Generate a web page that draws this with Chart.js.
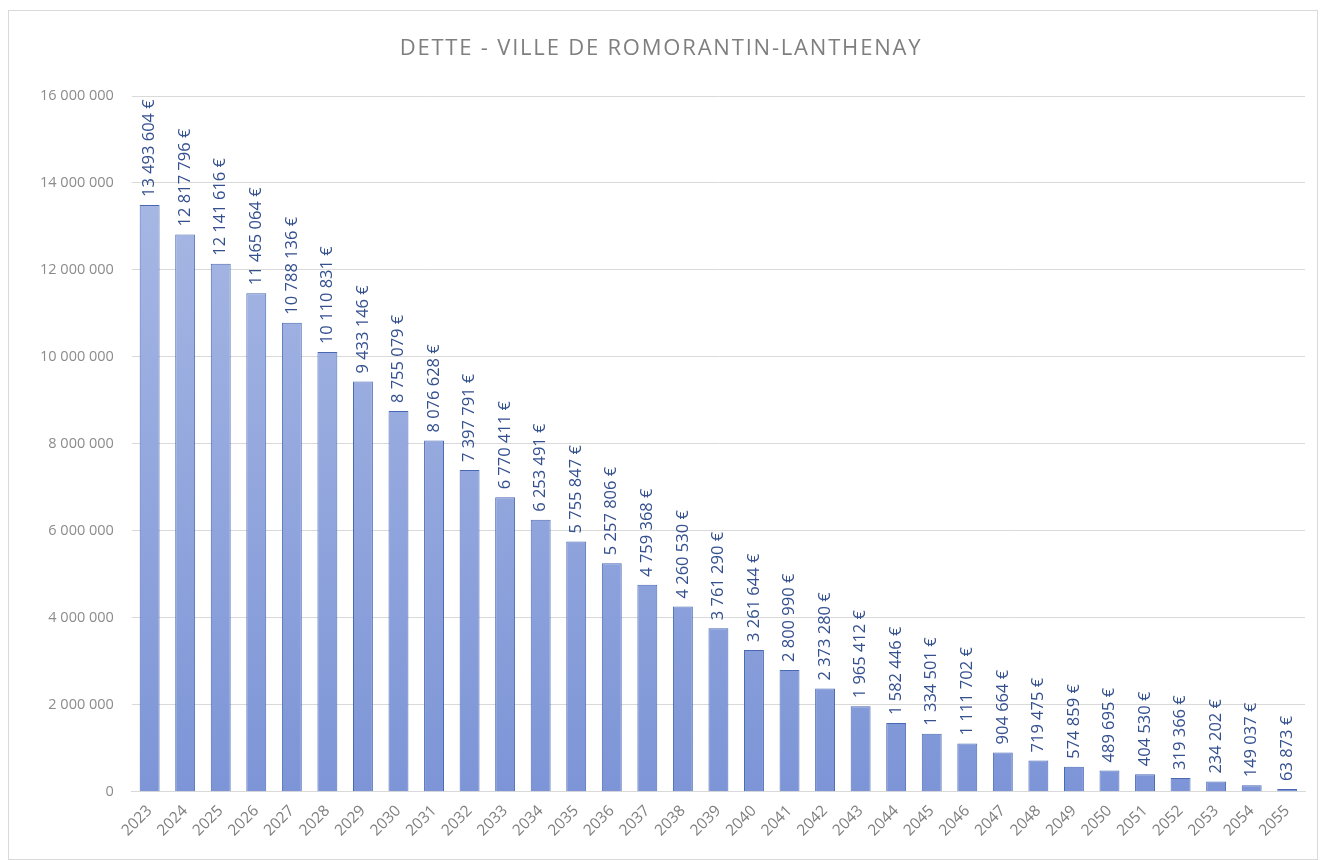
<!DOCTYPE html>
<html>
<head>
<meta charset="utf-8">
<script src="https://cdn.jsdelivr.net/npm/chart.js@4/dist/chart.umd.min.js"></script>
<style>
    html, body { margin: 0; padding: 0; background: #fff; }
    #frame {
        position: absolute; left: 8px; top: 10px; width: 1310px; height: 850px;
        border: 1px solid #d9d9d9; box-sizing: border-box;
    }
    #wrap { position: absolute; left: 0; top: 0; width: 1320px; height: 860px; }
</style>
</head>
<body>
<div id="frame"></div>
<div id="wrap"><canvas id="detteChart"></canvas></div>
<script>
// Dette restante par année
const years = ['2023','2024','2025','2026','2027','2028','2029','2030','2031','2032','2033',
    '2034','2035','2036','2037','2038','2039','2040','2041','2042','2043','2044',
    '2045','2046','2047','2048','2049','2050','2051','2052','2053','2054','2055'];
const dette = [13493604, 12817796, 12141616, 11465064, 10788136, 10110831, 9433146, 8755079,
    8076628, 7397791, 6770411, 6253491, 5755847, 5257806, 4759368, 4260530, 3761290,
    3261644, 2800990, 2373280, 1965412, 1582446, 1334501, 1111702, 904664, 719475,
    574859, 489695, 404530, 319366, 234202, 149037, 63873];
const yTicks = [0, 2000000, 4000000, 6000000, 8000000, 10000000, 12000000, 14000000, 16000000];
const titre = 'DETTE - VILLE DE ROMORANTIN-LANTHENAY';

const FONT = '"Open Sans", "Liberation Sans", sans-serif';

function formatNombre(v) {
    return String(v).replace(/\B(?=(\d{3})+(?!\d))/g, ' ');
}

// Titre dessiné à la main (espacement des lettres façon Excel)
const titrePlugin = {
    id: 'titrePlugin',
    afterDraw(chart) {
        const ctx = chart.ctx;
        ctx.save();
        ctx.fillStyle = '#7f7f7f';
        ctx.font = '22px ' + FONT;
        ctx.letterSpacing = '1.8px';
        ctx.textAlign = 'center';
        ctx.textBaseline = 'middle';
        ctx.fillText(titre, 661, 49);
        ctx.restore();
    }
};

// Étiquettes de valeurs verticales au-dessus des barres
const valueLabels = {
    id: 'valueLabels',
    afterDatasetsDraw(chart) {
        const ctx = chart.ctx;
        const meta = chart.getDatasetMeta(0);
        ctx.save();
        ctx.fillStyle = '#34508f';
        ctx.font = '16.5px ' + FONT;
        ctx.textAlign = 'left';
        ctx.textBaseline = 'middle';
        meta.data.forEach((bar, i) => {
            ctx.save();
            ctx.translate(bar.x, bar.y - 8);
            ctx.rotate(-Math.PI / 2);
            ctx.fillText(formatNombre(dette[i]) + ' €', 0, 0);
            ctx.restore();
        });
        ctx.restore();
    }
};

const ctx = document.getElementById('detteChart').getContext('2d');
new Chart(ctx, {
    type: 'bar',
    data: {
        labels: years,
        datasets: [{
            label: 'Dette',
            data: dette,
            backgroundColor: (c) => {
                const area = c.chart.chartArea;
                if (!area) return '#8fa6dc';
                const g = c.chart.ctx.createLinearGradient(0, area.top, 0, area.bottom);
                g.addColorStop(0, '#aebde6');
                g.addColorStop(1, '#7d95d7');
                return g;
            },
            borderColor: '#4868b4',
            borderWidth: 1,
            barPercentage: 0.56,
            categoryPercentage: 1
        }]
    },
    options: {
        responsive: true,
        maintainAspectRatio: false,
        animation: false,
        layout: { padding: { left: 22, right: 15, top: 96, bottom: 18 } },
        plugins: {
            legend: { display: false },
            tooltip: { enabled: false },
            title: { display: false }
        },
        scales: {
            x: {
                grid: { display: false },
                border: { color: '#d9d9d9' },
                ticks: {
                    color: '#7f7f7f',
                    font: { family: FONT, size: 15.5 },
                    minRotation: 45,
                    maxRotation: 45,
                    autoSkip: false,
                    padding: 2
                }
            },
            y: {
                min: 0,
                max: 16000000,
                afterBuildTicks: (axis) => { axis.ticks = yTicks.map(v => ({ value: v })); },
                grid: { color: '#d9d9d9', drawTicks: false },
                border: { display: false },
                ticks: {
                    color: '#8c8c8c',
                    font: { family: FONT, size: 14.5 },
                    padding: 18,
                    callback: (v) => formatNombre(v)
                }
            }
        }
    },
    plugins: [valueLabels, titrePlugin]
});
</script>
</body>
</html>
